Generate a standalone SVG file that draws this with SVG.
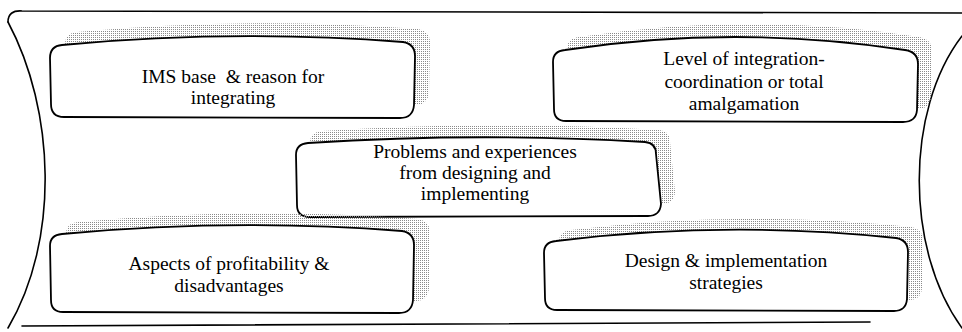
<svg xmlns="http://www.w3.org/2000/svg" width="962" height="332" viewBox="0 0 962 332">
<defs>
<pattern id="stip" width="2" height="2" patternUnits="userSpaceOnUse">
<rect width="1" height="1" fill="#8a8a8a"/>
</pattern>
<style>
.frame{fill:none;stroke:#000;stroke-width:1.6;stroke-linecap:round;stroke-linejoin:round}
.box{fill:#fff;stroke:#000;stroke-width:1.8;stroke-linejoin:round}
.shadow{fill:url(#stip);stroke:none}
.lbl{font-family:"Liberation Serif","Times New Roman",serif;font-size:19.5px;fill:#000;text-anchor:middle}
</style>
</defs>
<rect width="962" height="332" fill="#fff"/>
<g id="frame">
<path class="frame" d="M 8 22 Q 8 10 22 11 L 962 13"/>
<path class="frame" d="M 8 22 C 55 110, 60 240, 8 328"/>
<path class="frame" d="M 22 326 L 870 322"/>
<path class="frame" d="M 962 36 C 905 110, 905 250, 962 328"/>
</g>
<g id="node-ims">
<path class="shadow" transform="translate(15,-13)" d="M 62 45 Q 232 29 403 42 Q 415 44 415 56 L 414 105 Q 413 118 400 118 L 64 117 Q 51 117 51 104 L 50 58 Q 50 46 62 45 Z"/>
<path class="box" d="M 62 45 Q 232 29 403 42 Q 415 44 415 56 L 414 105 Q 413 118 400 118 L 64 117 Q 51 117 51 104 L 50 58 Q 50 46 62 45 Z"/>
<text class="lbl" x="233" y="83" xml:space="preserve">IMS base  &amp; reason for</text>
<text class="lbl" x="233" y="104">integrating</text>
</g>
<g id="node-level">
<path class="shadow" transform="translate(14,-13)" d="M 565 50 Q 735 24 905 50 Q 918 52 918 64 L 917 110 Q 916 122 903 122 L 566 121 Q 554 121 554 109 L 553 62 Q 553 51 565 50 Z"/>
<path class="box" d="M 565 50 Q 735 24 905 50 Q 918 52 918 64 L 917 110 Q 916 122 903 122 L 566 121 Q 554 121 554 109 L 553 62 Q 553 51 565 50 Z"/>
<text class="lbl" x="744" y="65">Level of integration-</text>
<text class="lbl" x="744" y="88">coordination or total</text>
<text class="lbl" x="744" y="110">amalgamation</text>
</g>
<g id="node-problems">
<path class="shadow" transform="translate(14,-12)" d="M 308 143 Q 478 132 645 142 Q 656 143 656 154 L 661 204 Q 660 216 648 216 L 310 217 Q 297 217 297 205 L 296 155 Q 296 144 308 143 Z"/>
<path class="box" d="M 308 143 Q 478 132 645 142 Q 656 143 656 154 L 661 204 Q 660 216 648 216 L 310 217 Q 297 217 297 205 L 296 155 Q 296 144 308 143 Z"/>
<text class="lbl" x="475" y="158">Problems and experiences</text>
<text class="lbl" x="475" y="179">from designing and</text>
<text class="lbl" x="475" y="200">implementing</text>
</g>
<g id="node-aspects">
<path class="shadow" transform="translate(16,-12)" d="M 62 234 Q 232 218 402 231 Q 414 233 414 245 L 413 300 Q 412 313 399 313 L 63 312 Q 51 312 51 300 L 50 246 Q 50 235 62 234 Z"/>
<path class="box" d="M 62 234 Q 232 218 402 231 Q 414 233 414 245 L 413 300 Q 412 313 399 313 L 63 312 Q 51 312 51 300 L 50 246 Q 50 235 62 234 Z"/>
<text class="lbl" x="229" y="270">Aspects of profitability &amp;</text>
<text class="lbl" x="229" y="292">disadvantages</text>
</g>
<g id="node-design">
<path class="shadow" transform="translate(15,-11)" d="M 556 241 Q 726 220 896 238 Q 908 240 908 252 L 907 299 Q 906 311 894 311 L 557 310 Q 545 310 545 298 L 544 253 Q 544 242 556 241 Z"/>
<path class="box" d="M 556 241 Q 726 220 896 238 Q 908 240 908 252 L 907 299 Q 906 311 894 311 L 557 310 Q 545 310 545 298 L 544 253 Q 544 242 556 241 Z"/>
<text class="lbl" x="726" y="267">Design &amp; implementation</text>
<text class="lbl" x="726" y="289">strategies</text>
</g>
</svg>
